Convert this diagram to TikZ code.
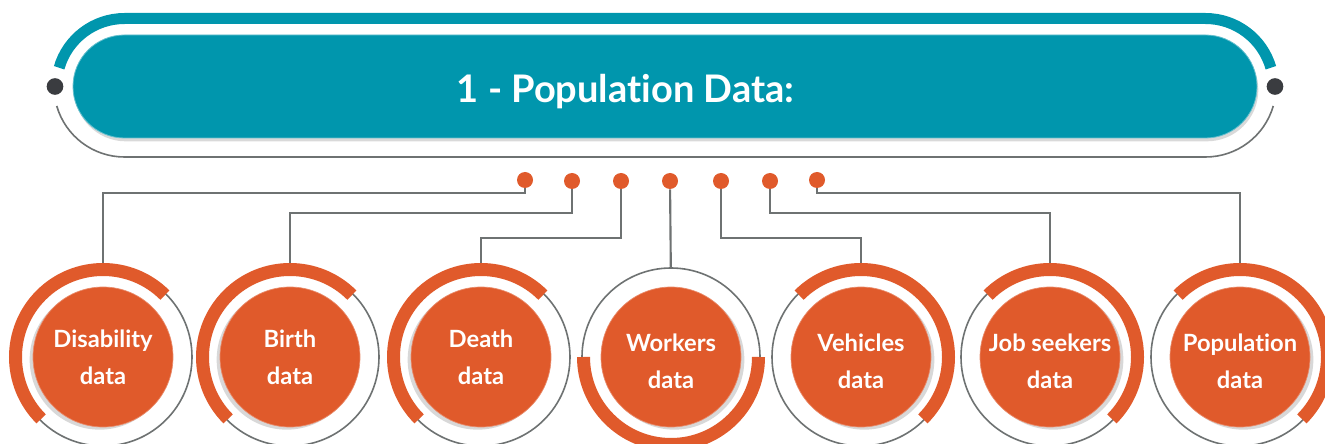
\documentclass[tikz,border=0pt]{standalone}
\usepackage{fontspec}
\setmainfont[Ligatures={NoCommon,NoRare}]{Lato}
\usetikzlibrary{shadows}

\definecolor{tealband}{RGB}{0,150,173}
\definecolor{orangefill}{RGB}{224,90,43}
\definecolor{wiregray}{RGB}{110,114,114}
\definecolor{darkdot}{RGB}{58,60,64}

\newcommand{\lowtext}{\rule{0pt}{19pt}}

\tikzstyle{title} = [rounded corners=38.6pt,fill=tealband,draw=tealband!60!white,line width=0.6pt,
	minimum width=888pt,minimum height=77.25pt,inner sep=0pt,
	drop shadow={shadow xshift=1pt,shadow yshift=-2.5pt,opacity=.3}]
\tikzstyle{titletext} = [text=white,font=\bfseries\fontsize{28.5}{32}\selectfont]
\tikzstyle{knob} = [circle,fill=darkdot,minimum size=12.5pt,inner sep=0pt]
\tikzstyle{dot} = [circle,fill=orangefill,minimum size=12pt,inner sep=0pt]
\tikzstyle{topic} = [circle,fill=orangefill,draw=orangefill!70!white,line width=0.5pt,
	minimum size=105pt,inner sep=0pt,align=center,text=white,
	font=\bfseries\fontsize{17.8}{27.75}\selectfont]
\tikzstyle{lshadow} = [drop shadow={shadow xshift=-2.5pt,shadow yshift=-2pt,opacity=.3}]
\tikzstyle{rshadow} = [drop shadow={shadow xshift=2.5pt,shadow yshift=-2pt,opacity=.3}]
\tikzstyle{ring} = [draw=wiregray,line width=1.2pt,fill=white]
\tikzstyle{band} = [draw=orangefill,line width=9.75pt]
\tikzstyle{wire} = [draw=wiregray,line width=1.6pt]

\begin{document}
\begin{tikzpicture}[x=0.75pt,y=0.75pt]
	\useasboundingbox (0,0) rectangle (1325,443);

	% header
	\draw[draw=tealband,line width=8.25pt] (124.5,356.5) ++(164:68)
		arc[start angle=164,end angle=90,radius=68] -- (1205.5,424.5)
		arc[start angle=90,end angle=16,radius=68];
	\draw[draw=wiregray,line width=1.2pt] (124.5,356.5) ++(196:70.5)
		arc[start angle=196,end angle=270,radius=70.5] -- (1205.5,286)
		arc[start angle=270,end angle=344,radius=70.5];
	\node[title] (pill) at (665,356.5) {};
	\node[titletext] (head) at (625.5,351) {1 - Population Data:};
	\node[knob] (kl) at (55,356.5) {};
	\node[knob] (kr) at (1275,356.5) {};

	\node[dot] (d1) at (525,263) {};
	\node[dot] (d2) at (572,262) {};
	\node[dot] (d3) at (621,262) {};
	\node[dot] (d4) at (670,262) {};
	\node[dot] (d5) at (721,262) {};
	\node[dot] (d6) at (770,262) {};
	\node[dot] (d7) at (817,263) {};

	% topics
	\draw[ring] (103,86) circle[radius=89];
	\draw[band] (103,86) ++(45:87.5) arc[start angle=45,end angle=225,radius=87.5];
	\node[topic,lshadow] (c1) at (103,86) {Disability\\data};

	\draw[ring] (290,86) circle[radius=89];
	\draw[band] (290,86) ++(45:87.5) arc[start angle=45,end angle=225,radius=87.5];
	\node[topic,lshadow] (c2) at (290,86) {Birth\\data};

	\draw[ring] (481,86) circle[radius=89];
	\draw[band] (481,86) ++(45:87.5) arc[start angle=45,end angle=225,radius=87.5];
	\node[topic,lshadow] (c3) at (481,86) {Death\\data};

	\draw[ring] (671,86) circle[radius=89];
	\draw[band] (671,86) ++(180:87.5) arc[start angle=180,end angle=360,radius=87.5];
	\node[topic,rshadow] (c4) at (671,86) {\lowtext Workers\\data};

	\draw[ring] (861,86) circle[radius=89];
	\draw[band] (861,86) ++(135:87.5) arc[start angle=135,end angle=-45,radius=87.5];
	\node[topic,rshadow] (c5) at (861,86) {\lowtext Vehicles\\data};

	\draw[ring] (1050,86) circle[radius=89];
	\draw[band] (1050,86) ++(135:87.5) arc[start angle=135,end angle=-45,radius=87.5];
	\node[topic,rshadow] (c6) at (1050,86) {\lowtext Job seekers\\data};

	\draw[ring] (1240,86) circle[radius=89];
	\draw[band] (1240,86) ++(135:87.5) arc[start angle=135,end angle=-45,radius=87.5];
	\node[topic,rshadow] (c7) at (1240,86) {\lowtext Population\\data};

	% links
	\draw[wire,shorten >=18pt] (d1) -- (d1 |- 0,250) -| (c1.north);
	\draw[wire,shorten >=18pt] (d2) -- (d2 |- 0,230) -| (c2.north);
	\draw[wire,shorten >=18pt] (d3) -- (d3 |- 0,205) -| (c3.north);
	\draw[wire,shorten >=14pt] (d4) -- (c4.north);
	\draw[wire,shorten >=18pt] (d5) -- (d5 |- 0,205) -| (c5.north);
	\draw[wire,shorten >=18pt] (d6) -- (d6 |- 0,230) -| (c6.north);
	\draw[wire,shorten >=18pt] (d7) -- (d7 |- 0,250) -| (c7.north);
\end{tikzpicture}
\end{document}
